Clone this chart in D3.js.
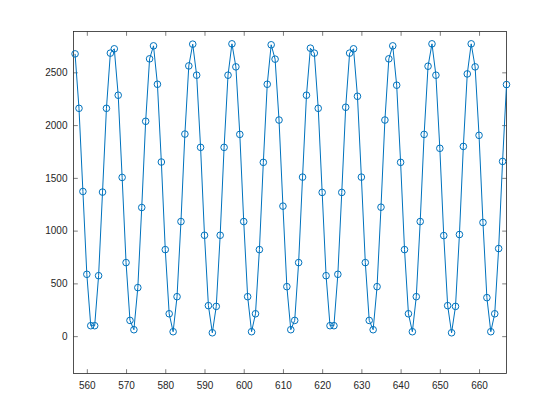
<!DOCTYPE html>
<html><head><meta charset="utf-8">
<script src="https://cdn.jsdelivr.net/npm/d3@7"></script>
<style>body{margin:0;background:#fff}svg{display:block}</style>
</head><body>
<script>
const xStart = 557;
const values = [2675,2159,1371,586,99,99,573,1365,2159,2682,
2723,2283,1504,697,149,61,460,1219,2036,2628,
2751,2387,1650,820,212,42,374,1086,1915,2561,
2767,2473,1789,956,289,32,282,956,1789,2473,
2770,2552,1912,1086,374,42,212,820,1647,2387,
2761,2625,2048,1232,469,61,149,697,1507,2283,
2729,2682,2159,1362,573,99,99,586,1362,2169,
2682,2723,2273,1507,697,149,61,469,1222,2048,
2628,2751,2378,1647,820,212,42,374,1086,1912,
2558,2770,2473,1780,953,289,32,282,963,1798,
2485,2770,2552,1903,1077,365,42,212,830,1656,2384];
const xs = values.map((v,i)=>xStart+i);
const xTicks = [560,570,580,590,600,610,620,630,640,650,660];
const yTicks = [0,500,1000,1500,2000,2500];

const W=560,H=420;
const L=73.5,R=506.5,T=31.5,B=373.5;
const svg=d3.select("body").append("svg").attr("width",W).attr("height",H);
const x=d3.scaleLinear().domain([556.6,667]).range([L,R]);
const y=d3.scaleLinear().domain([-354,2887]).range([B,T]);
const axCol="#262626";
const font="Helvetica, 'Liberation Sans', Arial, sans-serif";
const tl=4.3;

const gx=svg.append("g").attr("transform",`translate(0,${B})`)
 .call(d3.axisBottom(x).tickValues(xTicks).tickFormat(d3.format("d")).tickSizeInner(-tl).tickSizeOuter(0).tickPadding(8));
const gxt=svg.append("g").attr("transform",`translate(0,${T})`)
 .call(d3.axisTop(x).tickValues(xTicks).tickSizeInner(-tl).tickSizeOuter(0).tickFormat(""));
const gy=svg.append("g").attr("transform",`translate(${L},0)`)
 .call(d3.axisLeft(y).tickValues(yTicks).tickFormat(d3.format("d")).tickSizeInner(-tl).tickSizeOuter(0).tickPadding(6));
const gyr=svg.append("g").attr("transform",`translate(${R},0)`)
 .call(d3.axisRight(y).tickValues(yTicks).tickSizeInner(-tl).tickSizeOuter(0).tickFormat(""));
[gx,gxt,gy,gyr].forEach(g=>{
  g.select(".domain").remove();
  g.selectAll("line").attr("stroke",axCol).attr("stroke-width",0.6);
  g.selectAll("text").attr("fill",axCol).style("font-family",font).style("font-size","10px");
});
svg.append("rect").attr("x",L).attr("y",T).attr("width",R-L).attr("height",B-T)
 .attr("fill","none").attr("stroke",axCol).attr("stroke-width",0.8);

const line=d3.line().x((d,i)=>x(xs[i])).y(d=>y(d));
const col="#0072BD";
svg.append("path").datum(values).attr("d",line).attr("fill","none").attr("stroke",col).attr("stroke-width",1);
svg.append("g").selectAll("circle").data(values).join("circle")
 .attr("cx",(d,i)=>x(xs[i])).attr("cy",d=>y(d)).attr("r",3.3)
 .attr("fill","none").attr("stroke",col).attr("stroke-width",1);
</script>
</body></html>
